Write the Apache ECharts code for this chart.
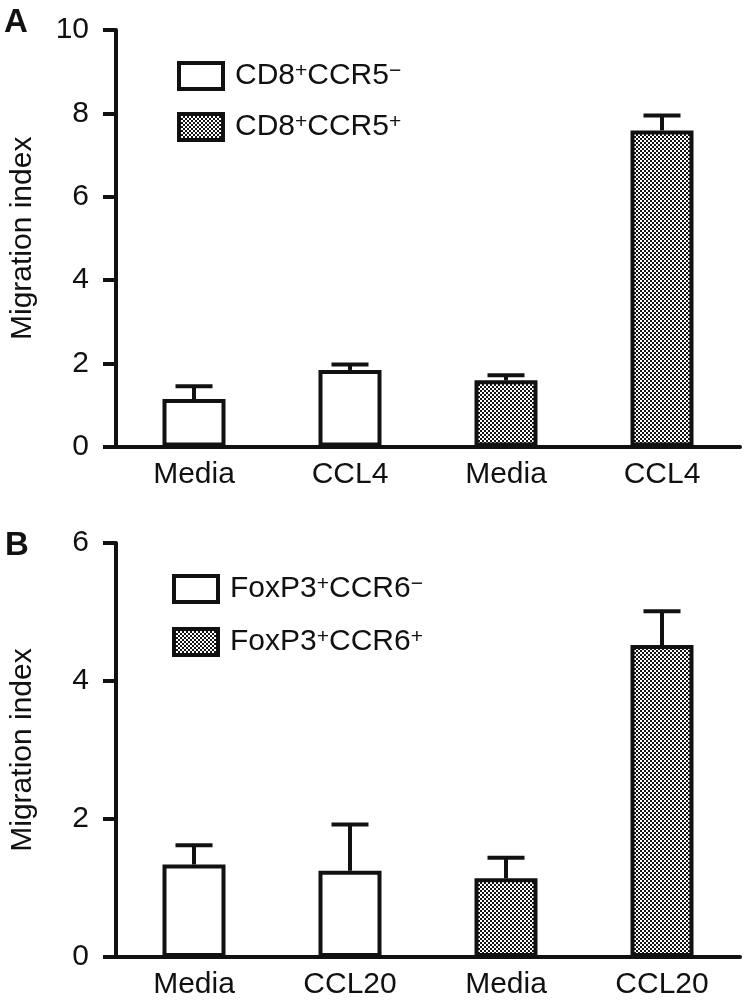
<!DOCTYPE html>
<html>
<head>
<meta charset="utf-8">
<script src="https://cdn.jsdelivr.net/npm/echarts@6/dist/echarts.min.js"></script>
<style>
html,body{margin:0;padding:0;background:#fff;}
#chart{width:746px;height:1005px;}
</style>
</head>
<body>
<div id="chart"></div>
<script>
// ---- Data ----
const catsA = ['Media', 'CCL4', 'Media', 'CCL4'];
const negA = [1.14, 1.84, '-', '-'];        // CD8+CCR5-
const posA = ['-', '-', 1.59, 7.59];        // CD8+CCR5+
const meanA = [1.14, 1.84, 1.59, 7.59];
const upperA = [1.45, 1.97, 1.71, 7.95];    // top of error bars
const ticksA = [0, 2, 4, 6, 8, 10];

const catsB = ['Media', 'CCL20', 'Media', 'CCL20'];
const negB = [1.34, 1.25, '-', '-'];        // FoxP3+CCR6-
const posB = ['-', '-', 1.14, 4.52];        // FoxP3+CCR6+
const meanB = [1.34, 1.25, 1.14, 4.52];
const upperB = [1.62, 1.92, 1.44, 5.01];
const ticksB = [0, 2, 4, 6];

const namesA = ['CD8+CCR5-', 'CD8+CCR5+'];
const namesB = ['FoxP3+CCR6-', 'FoxP3+CCR6+'];
const legendRich = {
  'CD8+CCR5-': '{n|CD8}{s|+}{n|CCR5}{s|\u2212}',
  'CD8+CCR5+': '{n|CD8}{s|+}{n|CCR5}{s|+}',
  'FoxP3+CCR6-': '{n|FoxP3}{s|+}{n|CCR6}{s|\u2212}',
  'FoxP3+CCR6+': '{n|FoxP3}{s|+}{n|CCR6}{s|+}'
};

// ---- Styles ----
const FONT = '"Liberation Sans", Arial, Helvetica, sans-serif';
const INK = '#111';

function makePattern() {
  const c = document.createElement('canvas');
  c.width = 4; c.height = 4;
  const ctx = c.getContext('2d');
  ctx.fillStyle = '#161616';
  ctx.fillRect(0, 0, 4, 4);
  ctx.fillStyle = '#ffffff';
  ctx.fillRect(0, 0, 2, 2);
  ctx.fillRect(2, 2, 2, 2);
  return c;
}
const pattern = { image: makePattern(), repeat: 'repeat' };

function errData(means, uppers) {
  return means.map((m, i) => [i, m, uppers[i]]);
}

function errRender(params, api) {
  const x = api.value(0);
  const p0 = api.coord([x, api.value(1)]);
  const p1 = api.coord([x, api.value(2)]);
  const half = 18.5;
  const st = { stroke: INK, lineWidth: 4 };
  return {
    type: 'group',
    children: [
      { type: 'line', shape: { x1: p0[0], y1: p0[1], x2: p1[0], y2: p1[1] }, style: st },
      { type: 'line', shape: { x1: p1[0] - half, y1: p1[1], x2: p1[0] + half, y2: p1[1] }, style: st }
    ]
  };
}

function xAxis(gridIndex, cats) {
  return {
    type: 'category', gridIndex: gridIndex, data: cats,
    axisLine: { lineStyle: { color: INK, width: 4 } },
    axisTick: { show: false },
    axisLabel: { color: INK, fontSize: 30, fontFamily: FONT, margin: 13, interval: 0 }
  };
}
function yAxis(gridIndex, ticks) {
  return {
    type: 'value', gridIndex: gridIndex,
    min: ticks[0], max: ticks[ticks.length - 1], interval: ticks[1] - ticks[0],
    name: 'Migration index', nameLocation: 'middle', nameGap: 78,
    nameTextStyle: { color: INK, fontSize: 30, fontFamily: FONT },
    axisLine: { show: true, lineStyle: { color: INK, width: 4 } },
    axisTick: { show: true, length: 13, lineStyle: { color: INK, width: 4 } },
    axisLabel: { color: INK, fontSize: 30, fontFamily: FONT, margin: 27 },
    splitLine: { show: false }
  };
}
function legend(names, left, top, gap) {
  return {
    data: names.map(n => ({ name: n, icon: 'rect' })),
    left: left, top: top, orient: 'vertical', padding: 0,
    itemWidth: 44, itemHeight: 26, itemGap: gap,
    selectedMode: false,
    itemStyle: { borderColor: INK, borderWidth: 4 },
    formatter: n => legendRich[n],
    textStyle: {
      color: INK, fontFamily: FONT,
      rich: {
        n: { fontSize: 30, fontFamily: FONT, color: INK, lineHeight: 30, verticalAlign: 'bottom' },
        s: { fontSize: 21, fontFamily: FONT, color: INK, lineHeight: 30, verticalAlign: 'top', padding: [0, 0, 8, 0] }
      },
      padding: [0, 0, 0, 7]
    }
  };
}
const barStyleWhite = { color: '#fff', borderColor: INK, borderWidth: 4 };
const barStyleHatch = { color: pattern, borderColor: INK, borderWidth: 4 };

const option = {
  animation: false,
  backgroundColor: '#fff',
  grid: [
    { left: 115, right: 6, top: 30, height: 416.6 },
    { left: 115, right: 6, top: 543, height: 414 }
  ],
  xAxis: [xAxis(0, catsA), xAxis(1, catsB)],
  yAxis: [yAxis(0, ticksA), yAxis(1, ticksB)],
  legend: [legend(namesA, 177, 61, 21), legend(namesB, 172, 574, 23)],
  graphic: [
    { type: 'text', left: 4, top: 6, style: { text: 'A', font: 'bold 33px ' + FONT, fill: INK } },
    { type: 'text', left: 5, top: 529, style: { text: 'B', font: 'bold 33px ' + FONT, fill: INK } }
  ],
  series: [
    { name: namesA[0], type: 'bar', xAxisIndex: 0, yAxisIndex: 0, data: negA, barWidth: 63, barGap: '-100%', itemStyle: barStyleWhite },
    { name: namesA[1], type: 'bar', xAxisIndex: 0, yAxisIndex: 0, data: posA, barWidth: 63, barGap: '-100%', itemStyle: barStyleHatch },
    { type: 'custom', xAxisIndex: 0, yAxisIndex: 0, data: errData(meanA, upperA), renderItem: errRender, z: 3 },
    { name: namesB[0], type: 'bar', xAxisIndex: 1, yAxisIndex: 1, data: negB, barWidth: 63, barGap: '-100%', itemStyle: barStyleWhite },
    { name: namesB[1], type: 'bar', xAxisIndex: 1, yAxisIndex: 1, data: posB, barWidth: 63, barGap: '-100%', itemStyle: barStyleHatch },
    { type: 'custom', xAxisIndex: 1, yAxisIndex: 1, data: errData(meanB, upperB), renderItem: errRender, z: 3 }
  ]
};

const chart = echarts.init(document.getElementById('chart'), null, { renderer: 'canvas' });
chart.setOption(option);
</script>
</body>
</html>
